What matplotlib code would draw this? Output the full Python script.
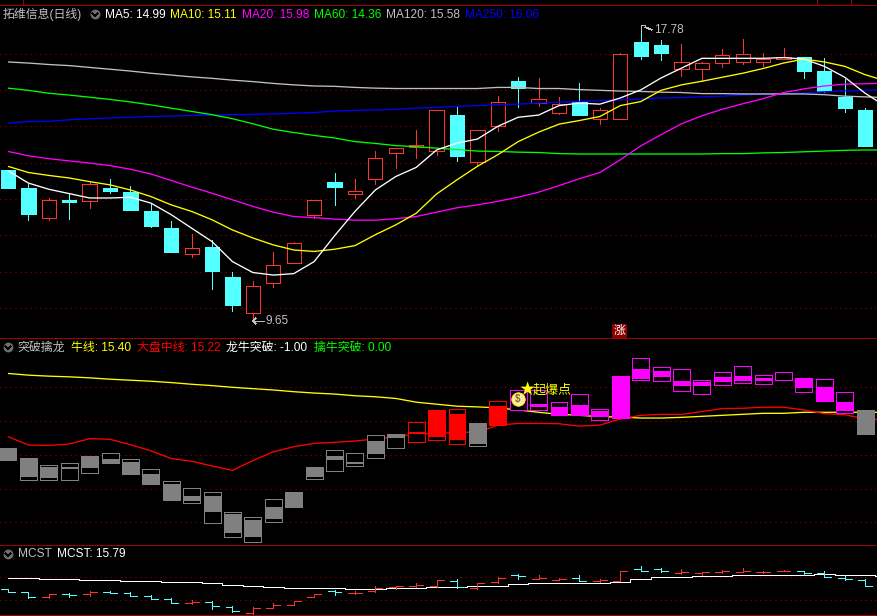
import numpy as np
import matplotlib
matplotlib.use("Agg")
import matplotlib.pyplot as plt
from matplotlib.lines import Line2D

plt.rcParams['font.family'] = ['Liberation Sans', 'Noto Sans CJK SC', 'DejaVu Sans']
plt.rcParams['lines.antialiased'] = False
plt.rcParams['patch.antialiased'] = False
plt.rcParams['lines.solid_capstyle'] = 'butt'
plt.rcParams['lines.solid_joinstyle'] = 'miter'

# daily prices
opens = [13.80, 13.31, 12.49, 12.98, 12.96, 13.31, 13.20, 12.68, 12.21, 11.50, 11.69,
         10.86, 9.88, 10.68, 11.23, 12.55, 13.47, 13.13, 13.54, 14.28, 14.43, 14.31,
         15.32, 14.01, 15.00, 16.25, 15.65, 15.38, 15.68, 15.20, 15.20, 17.33, 17.24,
         16.59, 16.59, 16.73, 16.78, 16.78, 16.86, 16.91, 16.53, 15.81, 15.46]
closes = [13.31, 12.59, 12.98, 12.92, 13.42, 13.23, 12.70, 12.26, 11.55, 11.65, 11.03,
          10.09, 10.60, 11.18, 11.79, 12.97, 13.34, 13.22, 14.13, 14.40, 14.48, 15.45,
          14.19, 14.90, 15.67, 16.05, 15.75, 15.61, 15.32, 15.45, 16.99, 16.94, 17.02,
          16.77, 16.74, 16.96, 16.99, 16.85, 16.90, 16.53, 15.98, 15.51, 14.47]
highs = [13.80, 13.42, 13.03, 13.16, 13.47, 13.55, 13.36, 12.89, 12.40, 12.04, 11.88,
         11.00, 10.75, 11.55, 11.82, 12.97, 13.72, 13.55, 14.33, 14.40, 14.90, 15.45,
         15.54, 14.90, 15.84, 16.36, 16.34, 15.81, 16.20, 15.51, 17.01, 17.78, 17.38,
         17.27, 16.78, 17.12, 17.41, 17.02, 17.16, 16.91, 16.89, 16.31, 15.51]
lows = [13.31, 12.43, 12.43, 12.46, 12.76, 13.17, 12.70, 12.24, 11.55, 11.41, 10.53,
        9.93, 9.65, 10.59, 11.23, 12.48, 12.84, 13.03, 13.42, 13.86, 14.14, 14.22,
        14.05, 13.94, 14.88, 15.54, 15.57, 15.35, 15.32, 15.07, 15.20, 16.86, 16.83,
        16.39, 16.25, 16.64, 16.72, 16.67, 16.86, 16.34, 15.95, 15.40, 14.47]

ma5 = [13.78, 13.44, 13.27, 13.15, 13.03, 13.03, 13.05, 12.89, 12.57, 12.20, 11.83,
       11.28, 10.98, 10.91, 10.95, 11.28, 11.99, 12.66, 13.25, 13.62, 13.87, 14.35,
       14.54, 14.65, 15.00, 15.25, 15.31, 15.57, 15.64, 15.61, 15.78, 16.00, 16.33,
       16.60, 16.87, 16.87, 16.87, 16.87, 16.89, 16.85, 16.65, 16.35, 15.91, 15.55]
ma10 = [13.90, 13.73, 13.65, 13.58, 13.48, 13.39, 13.25, 13.07, 12.84, 12.66, 12.43,
        12.15, 11.93, 11.74, 11.60, 11.56, 11.62, 11.72, 12.02, 12.29, 12.61, 13.14,
        13.53, 13.90, 14.22, 14.58, 14.84, 15.06, 15.16, 15.27, 15.57, 15.68, 15.99,
        16.14, 16.24, 16.35, 16.46, 16.59, 16.74, 16.85, 16.77, 16.65, 16.42, 16.25]
ma20 = [14.31, 14.19, 14.11, 14.05, 13.99, 13.92, 13.82, 13.69, 13.51, 13.33, 13.16,
        12.98, 12.80, 12.64, 12.52, 12.49, 12.45, 12.42, 12.42, 12.46, 12.52, 12.64,
        12.76, 12.84, 12.94, 13.05, 13.19, 13.37, 13.56, 13.73, 14.08, 14.46, 14.77,
        15.07, 15.29, 15.47, 15.62, 15.76, 15.93, 16.03, 16.11, 16.16, 16.17, 16.19]
ma60 = [16.05, 15.99, 15.91, 15.86, 15.80, 15.74, 15.67, 15.59, 15.50, 15.41, 15.32,
        15.21, 15.07, 14.92, 14.83, 14.75, 14.68, 14.58, 14.53, 14.47, 14.44, 14.40,
        14.36, 14.32, 14.31, 14.29, 14.28, 14.25, 14.24, 14.24, 14.24, 14.24, 14.24,
        14.24, 14.24, 14.25, 14.25, 14.27, 14.28, 14.30, 14.32, 14.34, 14.35, 14.35]
ma120 = [16.77, 16.74, 16.70, 16.67, 16.62, 16.57, 16.52, 16.46, 16.41, 16.36, 16.32,
         16.27, 16.23, 16.18, 16.14, 16.11, 16.10, 16.07, 16.05, 16.04, 16.04, 16.04,
         16.04, 16.04, 16.07, 16.07, 16.04, 16.04, 16.01, 15.99, 15.97, 15.96, 15.94,
         15.93, 15.90, 15.90, 15.89, 15.89, 15.89, 15.89, 15.87, 15.83, 15.81, 15.79]
ma250 = [15.09, 15.13, 15.14, 15.18, 15.21, 15.23, 15.25, 15.27, 15.28, 15.30, 15.31,
         15.32, 15.33, 15.34, 15.36, 15.38, 15.42, 15.44, 15.45, 15.47, 15.50, 15.52,
         15.55, 15.57, 15.59, 15.61, 15.64, 15.67, 15.68, 15.71, 15.73, 15.75, 15.78,
         15.79, 15.81, 15.83, 15.86, 15.88, 15.89, 15.92, 15.95, 15.97, 15.99, 16.01]

# 突破擒龙 panel: outer box and the filled part inside it
box_top = [14.20, 13.92, 13.69, 13.75, 13.98, 14.04, 13.89, 13.57, 13.24, 13.03, 12.89,
           12.32, 12.15, 12.68, 12.90, 13.64, 14.13, 14.04, 14.58, 14.62, 14.96, 15.33,
           15.36, 14.94, 15.59, 15.92, 15.92, 15.56, 15.80, 15.36, 16.34, 16.87, 16.60,
           16.54, 16.22, 16.45, 16.63, 16.36, 16.45, 16.28, 16.25, 15.86, 15.33, 15.24]
box_bot = [13.85, 13.26, 13.26, 13.26, 13.47, 13.76, 13.43, 13.13, 12.66, 12.58, 11.99,
           11.57, 11.42, 12.02, 12.45, 13.29, 13.53, 13.68, 13.91, 14.21, 14.39, 14.44,
           14.33, 14.27, 14.89, 15.34, 15.34, 15.19, 15.18, 15.04, 15.09, 16.22, 16.19,
           15.89, 15.80, 16.07, 16.13, 16.10, 16.22, 15.86, 15.59, 15.24, 14.62, 14.62]
fill_top = [14.20, 13.87, 13.64, 13.64, 13.94, 13.87, 13.80, 13.43, 13.13, 12.77, 12.77,
            12.24, 12.07, 12.45, 12.90, 13.64, 13.96, 13.79, 14.41, 14.62, 14.67, 15.33,
            15.21, 14.94, 15.45, 15.34, 15.50, 15.42, 15.48, 15.30, 16.34, 16.54, 16.48,
            16.19, 16.16, 16.31, 16.33, 16.27, 16.45, 16.28, 16.01, 15.56, 15.33, 15.24]
fill_bot = [13.85, 13.34, 13.30, 13.58, 13.61, 13.76, 13.43, 13.13, 12.66, 12.64, 12.30,
            11.68, 11.57, 12.11, 12.45, 13.33, 13.85, 13.73, 14.03, 14.50, 14.61, 14.53,
            14.44, 14.33, 14.89, 15.34, 15.42, 15.19, 15.18, 15.12, 15.09, 16.25, 16.31,
            16.04, 16.04, 16.16, 16.19, 16.19, 16.42, 15.98, 15.59, 15.30, 14.62, 14.62]
box_kind = ['g'] * 20 + ['r', 'r', 'r', 'g', 'r'] + ['m'] * 17 + ['g', 'g']
bull_line = [16.41, 16.36, 16.33, 16.31, 16.28, 16.24, 16.21, 16.18, 16.14, 16.09, 16.05,
             16.00, 15.96, 15.92, 15.87, 15.83, 15.80, 15.75, 15.72, 15.67, 15.56, 15.50,
             15.44, 15.42, 15.39, 15.33, 15.26, 15.20, 15.17, 15.13, 15.12, 15.09, 15.09,
             15.11, 15.14, 15.17, 15.20, 15.23, 15.23, 15.26, 15.26, 15.26, 15.26, 15.26]
market_line = [14.54, 14.29, 14.28, 14.32, 14.48, 14.46, 14.30, 14.12, 13.89, 13.81, 13.67,
               13.54, 13.83, 14.09, 14.24, 14.34, 14.37, 14.41, 14.47, 14.54, 14.62, 14.63,
               14.67, 14.67, 14.88, 14.93, 14.93, 14.92, 14.85, 14.88, 15.06, 15.17, 15.20,
               15.20, 15.28, 15.37, 15.38, 15.41, 15.41, 15.33, 15.22, 15.19, 15.06, 15.04]

mcst = [15.69, 15.69, 15.52, 15.52, 15.35, 15.35, 15.18, 15.18, 15.01, 15.01, 14.84,
        14.62, 14.33, 14.16, 13.99, 13.99, 13.99, 13.82, 13.82, 13.99, 13.99, 14.16,
        14.16, 14.33, 14.33, 14.67, 14.84, 14.84, 14.84, 14.84, 15.01, 15.52, 15.86,
        15.86, 16.03, 16.03, 16.20, 16.20, 16.20, 16.20, 16.37, 16.20, 16.20, 16.09]

CYAN = '#54ffff'
RED = '#ff3232'
GRID = '#a00000'
EDGE = '#a00000'
BOX = {'g': '#808080', 'r': '#ff0000', 'm': '#ff00ff'}
LW = 0.5
CURVE = 0.95
W, H = 878, 616
XLIM = (-0.392, 42.63)


def panel(y0, y1, ylim):
    ax = fig.add_axes([0, 1 - y1 / H, 1, (y1 - y0) / H], facecolor='black')
    ax.set_xlim(XLIM)
    ax.set_ylim(ylim)
    ax.set_xticks([])
    ax.set_yticks([])
    for s in ax.spines.values():
        s.set_visible(False)
    ax.spines['top'].set_visible(True)
    ax.spines['top'].set_color(EDGE)
    ax.spines['top'].set_linewidth(LW)
    return ax


def grid(ax, levels):
    for v in levels:
        ax.axhline(v, color=GRID, lw=0.72, ls=(0, (1, 4)), antialiased=True, zorder=0)


fig = plt.figure(figsize=(W / 100, H / 100), dpi=100, facecolor='black')

# main panel
ax1 = panel(4.5, 338, (9.18, 18.35))
grid(ax1, range(10, 18))
x = np.arange(len(opens))
up = np.array(closes) >= np.array(opens)
for i in x:
    c = RED if up[i] else CYAN
    ax1.vlines(i, lows[i], highs[i], color=c, lw=LW, zorder=2)
    ax1.bar(i, abs(closes[i] - opens[i]), bottom=min(opens[i], closes[i]), width=0.7,
            facecolor='black' if up[i] else c, edgecolor=c, lw=LW, zorder=3)
xm = np.arange(len(ma5))
for vals, c in [(ma250, '#0000ff'), (ma120, '#c0c0c0'), (ma60, '#00ff00'),
                (ma20, '#ff00ff'), (ma10, '#ffff00'), (ma5, '#ffffff')]:
    ax1.plot(xm, vals, color=c, lw=CURVE, antialiased=True, zorder=4)

# 突破擒龙 panel
ax2 = panel(338, 545, (11.33, 17.46))
grid(ax2, range(12, 17))
ax2.plot(xm, bull_line, color='#ffff00', lw=CURVE, antialiased=True, zorder=1)
ax2.plot(xm, market_line, color='#ff0000', lw=CURVE, antialiased=True, zorder=1)
for i in xm:
    c = BOX[box_kind[i]]
    ax2.bar(i, box_top[i] - box_bot[i], bottom=box_bot[i], width=0.83,
            facecolor='black', edgecolor=c, lw=LW, zorder=3)
    if fill_top[i] > fill_bot[i]:
        ax2.bar(i, fill_top[i] - fill_bot[i], bottom=fill_bot[i], width=0.83,
                facecolor=c, edgecolor='none', zorder=4)

# MCST panel
ax3 = panel(545, 615, (9.46, 21.36))
ax3.spines['bottom'].set_visible(True)
ax3.spines['bottom'].set_color(EDGE)
ax3.spines['bottom'].set_linewidth(LW)
grid(ax3, [12, 16])
ax3.plot(xm, mcst, color='white', lw=LW, drawstyle='steps-mid', zorder=2)
for i in x:
    c = RED if up[i] else CYAN
    ax3.vlines(i, lows[i], highs[i], color=c, lw=LW, zorder=3)
    ax3.hlines(opens[i], i - 0.34, i, color=c, lw=LW, zorder=3)
    ax3.hlines(closes[i], i, i + 0.34, color=c, lw=LW, zorder=3)

# overlay for text and icons, in pixels
ov = fig.add_axes([0, 0, 1, 1], facecolor='none')
ov.set_xlim(0, W)
ov.set_ylim(H, 0)
ov.axis('off')


def label(px, py, s, c, fs=8.6, **kw):
    ov.text(px, py, s, color=c, fontsize=fs, va='center', ha='left', **kw)


def icon(px, py):
    ov.scatter([px], [py], s=50, color='#6e6e6e', linewidths=0, zorder=5)
    ov.plot([px - 3, px, px + 3], [py - 1, py + 2, py - 1], color='black', lw=1.0, zorder=6)


label(3, 14.5, '拓维信息(日线)', '#c0c0c0')
icon(95, 14)
label(105, 14.5, 'MA5: 14.99', '#ffffff')
label(170, 14.5, 'MA10: 15.11', '#ffff00')
label(242, 14.5, 'MA20: 15.98', '#ff00ff')
label(314, 14.5, 'MA60: 14.36', '#00ff00')
label(386, 14.5, 'MA120: 15.58', '#c0c0c0')
label(465, 14.5, 'MA250: 16.06', '#0000ff')

icon(8, 347)
label(17, 347.5, '突破擒龙', '#c0c0c0')
label(71, 347.5, '牛线: 15.40', '#ffff00')
label(137, 347.5, '大盘中线: 15.22', '#ff0000')
label(226, 347.5, '龙牛突破: -1.00', '#ffffff')
label(314, 347.5, '擒牛突破: 0.00', '#00ff00')

icon(8, 554)
label(18, 554, 'MCST', '#c0c0c0')
label(57, 554, 'MCST: 15.79', '#ffffff')

# price extremes and markers
ov.plot([253, 264], [321, 321], color='#c0c0c0', lw=LW)
ov.plot([256, 253, 256], [318, 321, 324], color='#c0c0c0', lw=LW)
label(266, 321, '9.65', '#c0c0c0')
ov.plot([645, 652], [27, 30], color='#c0c0c0', lw=LW)
ov.plot([641, 641, 645], [30, 25, 25], color='#c0c0c0', lw=LW)
label(654, 30, '17.78', '#c0c0c0')

ov.text(619.5, 331, '涨', color='white', fontsize=8.5, ha='center', va='center',
        bbox=dict(boxstyle='square,pad=0.12', facecolor='#8c0000', edgecolor='none'), zorder=6)

ov.text(527, 390, '★', color='#ffff00', fontsize=11, ha='center', va='center',
        family=['Noto Sans CJK SC', 'DejaVu Sans'], zorder=7)
label(533, 390, '起爆点', '#ffff00', fs=9.4, zorder=7)
ov.scatter([518], [399], s=95, color='#ffe9a0', edgecolors='#ffff00', linewidths=0.5, zorder=6)
ov.text(518, 399, '$', color='#8a6a20', fontsize=7, ha='center', va='center',
        fontweight='bold', zorder=7)

for px in [23, 817, 851]:
    fig.add_artist(Line2D([px / W, px / W], [1, 1 - 4.5 / H], color=EDGE, lw=LW))

fig.savefig('out.png', dpi=100, facecolor='black')
